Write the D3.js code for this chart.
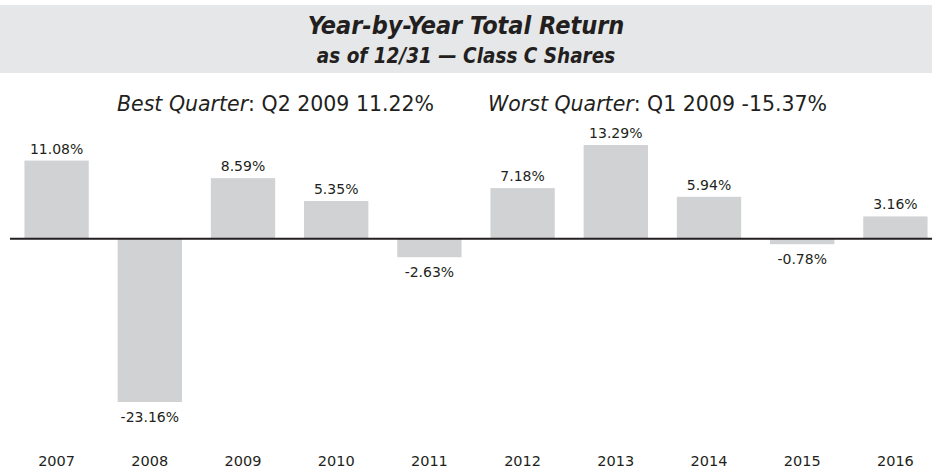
<!DOCTYPE html>
<html>
<head>
<meta charset="utf-8">
<script src="https://cdn.jsdelivr.net/npm/d3@7"></script>
<style>
  body { margin: 0; background: #fff; }
  svg { display: block; font-family: "DejaVu Sans", sans-serif; }
  .title { font-family: "DejaVu Sans Condensed", "DejaVu Sans", sans-serif; font-weight: bold; font-style: italic; fill: #231f20; }
  .label { font-size: 14px; fill: #231f20; }
  .year { font-size: 14.5px; fill: #231f20; }
  .note { font-size: 20.5px; fill: #231f20; }
</style>
</head>
<body>
<div id="chart"></div>
<script>
// year-by-year returns, Class C shares
const years = ["2007", "2008", "2009", "2010", "2011", "2012", "2013", "2014", "2015", "2016"];
const returns = [11.08, -23.16, 8.59, 5.35, -2.63, 7.18, 13.29, 5.94, -0.78, 3.16];
const titleLines = ["Year-by-Year Total Return", "as of 12/31 \u2014 Class C Shares"];
const bestQuarter = {label: "Best Quarter", text: ": Q2 2009 11.22%"};
const worstQuarter = {label: "Worst Quarter", text: ": Q1 2009 -15.37%"};

const width = 932, height = 469;

const svg = d3.select("#chart")
    .append("svg")
    .attr("width", width)
    .attr("height", height);

// title band
svg.append("rect")
    .attr("x", 0).attr("y", 5)
    .attr("width", width).attr("height", 68)
    .attr("fill", "#e6e7e8");

svg.append("text")
    .attr("class", "title")
    .attr("x", 466).attr("y", 34)
    .attr("text-anchor", "middle")
    .style("font-size", "25px")
    .text(titleLines[0]);
svg.append("text")
    .attr("class", "title")
    .attr("x", 466).attr("y", 63)
    .attr("text-anchor", "middle")
    .style("font-size", "20.5px")
    .text(titleLines[1]);

// best / worst quarter notes
function note(x, d) {
    let t = svg.append("text").attr("class", "note").attr("x", x).attr("y", 111);
    t.append("tspan").style("font-style", "italic").text(d.label);
    t.append("tspan").text(d.text);
}
note(117, bestQuarter);
note(488, worstQuarter);

// scales
const x = d3.scaleBand()
    .domain(years)
    .range([10, 942])
    .paddingInner(0.31)
    .paddingOuter(0.155);

const y = d3.scaleLinear()
    .domain([-23.16, 13.29])
    .range([402, 145]);

// bars
svg.selectAll(".bar")
    .data(returns)
    .join("rect")
    .attr("class", "bar")
    .attr("x", (d, i) => x(years[i]))
    .attr("width", x.bandwidth())
    .attr("y", d => Math.min(y(d), y(0)))
    .attr("height", d => Math.abs(y(d) - y(0)))
    .attr("fill", "#d1d2d4");

// zero line
svg.append("line")
    .attr("x1", 10).attr("x2", width)
    .attr("y1", y(0)).attr("y2", y(0))
    .attr("stroke", "#231f20")
    .attr("stroke-width", 2);

// value labels
svg.selectAll(".label")
    .data(returns)
    .join("text")
    .attr("class", "label")
    .attr("text-anchor", "middle")
    .attr("x", (d, i) => x(years[i]) + x.bandwidth() / 2)
    .attr("y", d => d >= 0 ? y(d) - 7 : y(d) + 20)
    .text(d => d.toFixed(2) + "%");

// year axis labels
svg.selectAll(".year")
    .data(years)
    .join("text")
    .attr("class", "year")
    .attr("text-anchor", "middle")
    .attr("x", d => x(d) + x.bandwidth() / 2)
    .attr("y", 466)
    .text(d => d);
</script>
</body>
</html>
